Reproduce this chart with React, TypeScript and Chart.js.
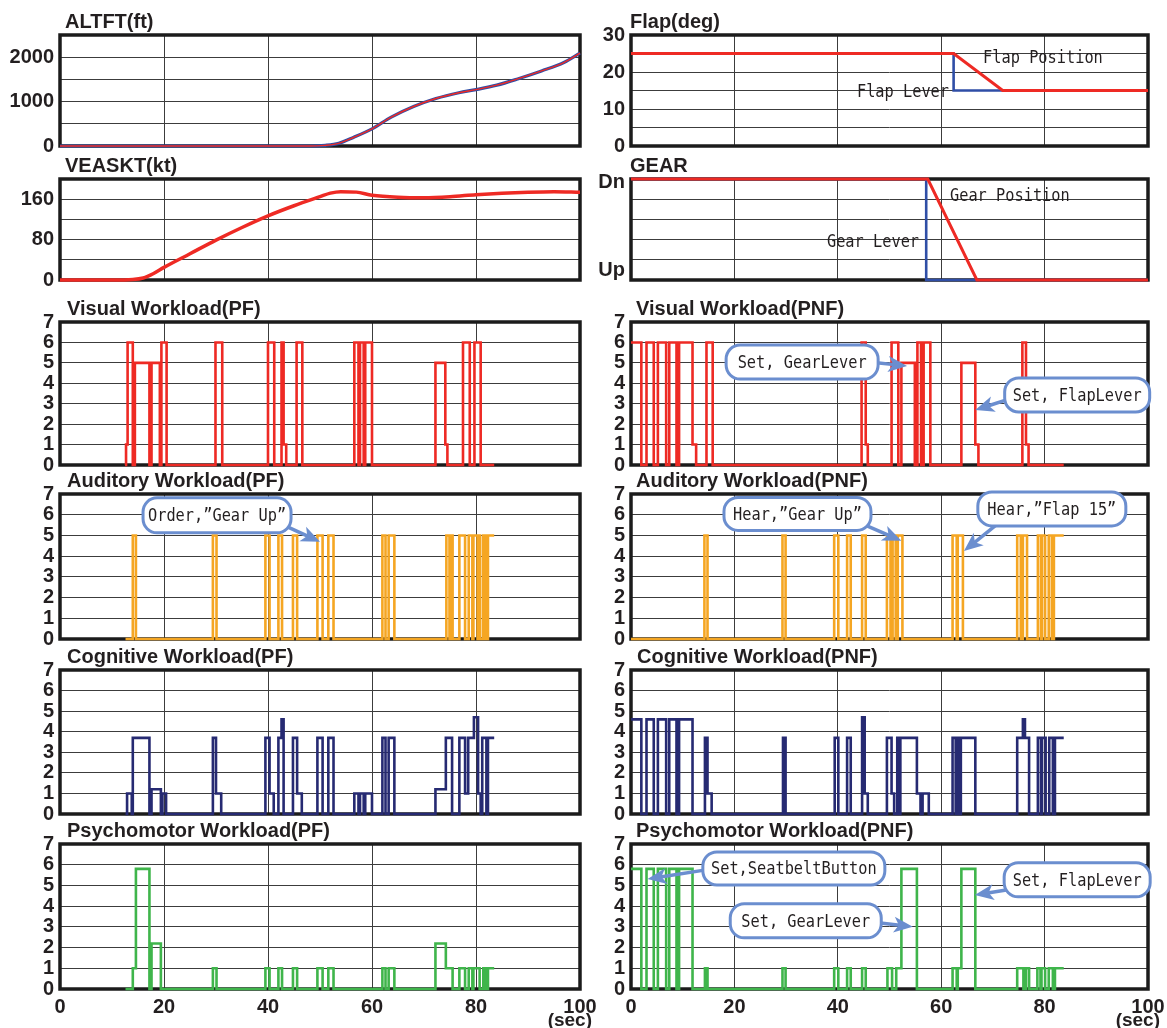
import React, { useEffect, useRef } from "react";
import { Chart, registerables } from "chart.js";

Chart.register(...registerables);

// ================= DATA =================
const timeStep = 20; // seconds between x ticks

const altTime = [0, 48, 51, 53.6, 56.5, 60, 63.7, 68, 72.3, 76.7, 80, 84, 88, 92.6, 96.9, 100];
const altFt = [0, 0, 15, 60, 197, 386, 650, 890, 1070, 1200, 1270, 1370, 1510, 1690, 1880, 2090];

const velTime = [0, 10, 14, 16, 18, 20, 25, 30, 35, 40, 45, 50, 52, 54, 57, 60, 65, 70, 75, 80, 85, 90, 95, 100];
const velKt = [0, 0, 1, 4, 13, 25, 52, 79, 104, 127, 147, 165, 172, 175, 174, 168, 164, 163, 165, 169, 172, 174, 175, 174];

const flapPosTime = [0, 62.4, 71.9, 100];
const flapPosDeg = [25, 25, 15, 15];
const flapLeverTime = [0, 62.4, 62.4, 100];
const flapLeverDeg = [25, 25, 15, 15];

const gearPosTime = [0, 57.4, 66.9, 100];
const gearPosState = [1, 1, 0, 0]; // 1 = Dn, 0 = Up
const gearLeverTime = [0, 57.1, 57.1, 100];
const gearLeverState = [1, 1, 0, 0];
const gearStateLabels = ["Up", "Dn"];

// Workload step series: level[i] holds from time[i] until time[i+1]
const visualPFTime = [12.5, 12.7, 13.0, 14.0, 14.4, 17.2, 17.6, 19.2, 19.5, 20.5, 29.9, 31.2, 40.0, 41.2, 42.6, 43.0, 43.5, 45.5, 46.6, 56.6, 57.4, 57.7, 58.4, 58.7, 60.0, 72.2, 74.1, 74.5, 77.5, 78.8, 79.7, 80.9, 83.5];
const visualPFLevel = [0, 1, 6, 0, 5, 0, 5, 0, 6, 0, 6, 0, 6, 0, 6, 1, 0, 6, 0, 6, 0, 6, 0, 6, 0, 5, 1, 0, 6, 0, 6, 0, 0];

const visualPNFTime = [0, 2.0, 3.0, 4.4, 5.2, 6.8, 7.4, 8.8, 9.3, 11.9, 12.6, 14.6, 15.8, 44.6, 45.4, 45.8, 50.4, 51.7, 52.3, 54.9, 55.4, 56.1, 56.6, 57.9, 63.9, 66.6, 67.2, 75.7, 76.4, 76.9, 83.7];
const visualPNFLevel = [6, 0, 6, 0, 6, 0, 6, 0, 6, 1, 0, 6, 0, 6, 1, 0, 6, 0, 5, 0, 6, 0, 6, 0, 5, 1, 0, 6, 1, 0, 0];

const auditoryPFTime = [12.6, 14.0, 14.6, 29.4, 30.1, 39.5, 40.3, 42.0, 42.7, 44.8, 45.6, 49.5, 50.5, 51.6, 52.6, 62.0, 62.6, 63.2, 64.3, 74.3, 74.9, 75.2, 75.5, 76.8, 77.9, 78.6, 79.3, 79.5, 80.3, 80.5, 80.8, 81.4, 81.9, 82.3, 83.5];
const auditoryPFLevel = [0, 5, 0, 5, 0, 5, 0, 5, 0, 5, 0, 5, 0, 5, 0, 5, 0, 5, 0, 5, 0, 5, 0, 5, 0, 5, 0, 5, 0, 5, 0, 5, 0, 5, 5];

const auditoryPNFTime = [0, 14.2, 14.8, 29.3, 29.9, 39.3, 40.1, 41.8, 42.5, 44.7, 45.4, 49.5, 50.2, 50.6, 51.2, 51.6, 52.5, 62.2, 63.0, 63.2, 64.2, 74.7, 75.4, 75.8, 76.6, 78.7, 79.3, 79.5, 80.1, 80.8, 81.4, 81.8, 83.7];
const auditoryPNFLevel = [0, 5, 0, 5, 0, 5, 0, 5, 0, 5, 0, 5, 0, 5, 0, 5, 0, 5, 0, 5, 0, 5, 0, 5, 0, 5, 0, 5, 0, 5, 0, 5, 5];

const cognitivePFTime = [12.6, 12.9, 13.8, 14.0, 17.2, 17.6, 19.4, 19.7, 20.4, 29.4, 30.0, 31.0, 39.5, 40.3, 41.1, 42.0, 42.6, 43.0, 44.8, 45.6, 46.5, 49.5, 50.5, 51.6, 52.6, 56.6, 57.4, 57.7, 58.4, 58.7, 60.0, 62.0, 62.6, 63.2, 64.3, 72.2, 74.2, 75.4, 76.8, 77.9, 78.5, 79.6, 80.4, 80.9, 81.2, 82.0, 82.3, 83.5];
const cognitivePFLevel = [0, 1, 0, 3.7, 0, 1.2, 0, 1, 0, 3.7, 1, 0, 3.7, 1, 0, 3.7, 4.6, 0, 3.7, 1, 0, 3.7, 0, 3.7, 0, 1, 0, 1, 0, 1, 0, 3.7, 0, 3.7, 0, 1.2, 3.7, 0, 3.7, 1, 3.7, 4.7, 1, 0, 3.7, 0, 3.7, 3.7];

const cognitivePNFTime = [0, 2.0, 3.0, 4.4, 5.2, 6.8, 7.4, 8.8, 9.3, 11.9, 14.3, 14.8, 15.6, 29.4, 29.9, 39.4, 40.1, 41.8, 42.5, 44.7, 45.2, 45.8, 49.5, 50.4, 50.9, 51.5, 51.9, 52.1, 55.3, 56.0, 56.4, 57.6, 62.2, 62.8, 63.1, 63.6, 63.8, 66.6, 74.7, 75.8, 76.2, 77.0, 78.7, 79.3, 79.5, 80.2, 80.9, 81.6, 82.0, 83.7];
const cognitivePNFLevel = [4.6, 0, 4.6, 0, 4.6, 0, 4.6, 0, 4.6, 0, 3.7, 1, 0, 3.7, 0, 3.7, 0, 3.7, 0, 4.7, 1, 0, 3.7, 1, 0, 3.7, 0, 3.7, 1, 0, 1, 0, 3.7, 0, 3.7, 0, 3.7, 0, 3.7, 4.6, 3.7, 0, 3.7, 0, 3.7, 0, 3.7, 0, 3.7, 3.7];

const psychPFTime = [12.6, 14.0, 14.6, 17.2, 17.6, 19.4, 29.4, 30.1, 39.5, 40.3, 42.0, 42.7, 44.8, 45.6, 49.5, 50.5, 51.6, 52.6, 62.0, 62.6, 63.2, 64.3, 72.2, 74.2, 75.5, 76.8, 77.9, 78.6, 79.3, 79.5, 80.7, 81.4, 81.9, 82.3, 83.5];
const psychPFLevel = [0, 1, 5.8, 0, 2.2, 0, 1, 0, 1, 0, 1, 0, 1, 0, 1, 0, 1, 0, 1, 0, 1, 0, 2.2, 1, 0, 1, 0, 1, 0, 1, 0, 1, 0, 1, 1];

const psychPNFTime = [0, 2.0, 3.0, 4.4, 5.2, 6.8, 7.4, 8.8, 9.3, 11.9, 14.3, 14.8, 29.3, 29.9, 39.3, 40.1, 41.8, 42.5, 44.7, 45.4, 49.6, 50.5, 51.3, 52.3, 55.3, 62.2, 63.0, 63.2, 63.9, 66.6, 74.7, 75.9, 76.4, 77.0, 78.6, 79.2, 79.4, 80.1, 80.8, 81.6, 82.0, 83.7];
const psychPNFLevel = [5.8, 0, 5.8, 0, 5.8, 0, 5.8, 0, 5.8, 0, 1, 0, 1, 0, 1, 0, 1, 0, 1, 0, 1, 0, 1, 5.8, 0, 1, 0, 1, 5.8, 0, 1, 0, 1, 0, 1, 0, 1, 0, 1, 0, 1, 1];

// ================= STYLE / LAYOUT =================
const RED = "#ee2a24";
const BLUE = "#2f4ea6";
const ORANGE = "#f5a623";
const NAVY = "#262a72";
const GREEN = "#3fb54b";
const CALLOUT = "#6b8ecf";
const TEXT = "#231f20";
const GRID = "#3c3c3c";
const SANS = '"Liberation Sans", Arial, Helvetica, sans-serif';
const MONO = '"DejaVu Sans Mono", "Liberation Mono", monospace';

const COLS = [
  { l: 60, r: 580 },
  { l: 631, r: 1148 },
];
const ROWS = [
  { t: 35, b: 146 },
  { t: 179, b: 280 },
  { t: 322, b: 465 },
  { t: 494, b: 639 },
  { t: 670, b: 814 },
  { t: 844, b: 989 },
];
const YW = 60;
const TOPPAD = 34;
const RIGHTPAD = 20;
const BOTPAD = 16;
const XAXIS_H = 39;

type Series = { t: number[]; v: number[]; color: string; width: number; stepped?: boolean; smooth?: boolean };
type Callout = { text: string; cx: number; cy: number; w: number; h: number; sx: number; sy: number; tx: number; ty: number };
type Note = { text: string; x: number; y: number };
type SideLabel = { v: number; text: string; dy: number };
type Panel = {
  id: string;
  title: string;
  col: number;
  row: number;
  titleDx: number;
  yMax: number;
  yStep: number;
  yLabel: (v: number) => string;
  series: Series[];
  callouts?: Callout[];
  notes?: Note[];
  sideLabels?: SideLabel[];
  vGridTopOnly?: number;
};

const wl = (v: number) => String(v);

const PANELS: Panel[] = [
  {
    id: "alt", title: "ALTFT(ft)", col: 0, row: 0, titleDx: 5, yMax: 2500, yStep: 500,
    yLabel: (v) => (v % 1000 === 0 ? String(v) : ""),
    series: [
      { t: altTime, v: altFt, color: RED, width: 1.4, smooth: true },
      { t: altTime, v: altFt, color: BLUE, width: 3.2, smooth: true },
    ],
  },
  {
    id: "vel", title: "VEASKT(kt)", col: 0, row: 1, titleDx: 5, yMax: 200, yStep: 40,
    yLabel: (v) => (v % 80 === 0 ? String(v) : ""),
    series: [{ t: velTime, v: velKt, color: RED, width: 3.5, smooth: true }],
  },
  {
    id: "flap", title: "Flap(deg)", col: 1, row: 0, titleDx: -1, yMax: 30, yStep: 5,
    yLabel: (v) => (v % 10 === 0 ? String(v) : ""),
    series: [
      { t: flapPosTime, v: flapPosDeg, color: RED, width: 3 },
      { t: flapLeverTime, v: flapLeverDeg, color: BLUE, width: 2.6 },
    ],
    notes: [
      { text: "Flap Position", x: 68.1, y: 22.4 },
      { text: "Flap Lever", x: 43.7, y: 13.2 },
    ],
  },
  {
    id: "gear", title: "GEAR", col: 1, row: 1, titleDx: -1, yMax: 1, yStep: 0.2,
    yLabel: () => "",
    sideLabels: [
      { v: 1, text: gearStateLabels[1], dy: 3 },
      { v: 0, text: gearStateLabels[0], dy: -10 },
    ],
    series: [
      { t: gearPosTime, v: gearPosState, color: RED, width: 3 },
      { t: gearLeverTime, v: gearLeverState, color: BLUE, width: 2.6 },
    ],
    notes: [
      { text: "Gear Position", x: 61.7, y: 0.78 },
      { text: "Gear Lever", x: 37.9, y: 0.33 },
    ],
  },
  {
    id: "vpf", title: "Visual Workload(PF)", col: 0, row: 2, titleDx: 7, yMax: 7, yStep: 1, yLabel: wl,
    series: [{ t: visualPFTime, v: visualPFLevel, color: RED, width: 2.6, stepped: true }],
    vGridTopOnly: 6,
  },
  {
    id: "vpnf", title: "Visual Workload(PNF)", col: 1, row: 2, titleDx: 5, yMax: 7, yStep: 1, yLabel: wl,
    series: [{ t: visualPNFTime, v: visualPNFLevel, color: RED, width: 2.6, stepped: true }],
    callouts: [
      { text: "Set, GearLever", cx: 33.1, cy: 5.04, w: 152, h: 34, sx: 47.5, sy: 5.0, tx: 53.4, ty: 4.85 },
      { text: "Set, FlapLever", cx: 86.3, cy: 3.43, w: 145, h: 34, sx: 72.8, sy: 3.2, tx: 66.6, ty: 2.69 },
    ],
  },
  {
    id: "apf", title: "Auditory Workload(PF)", col: 0, row: 3, titleDx: 7, yMax: 7, yStep: 1, yLabel: wl,
    series: [{ t: auditoryPFTime, v: auditoryPFLevel, color: ORANGE, width: 2.6, stepped: true }],
    callouts: [
      { text: "Order,\u201dGear Up\u201d", cx: 30.2, cy: 5.97, w: 148, h: 35, sx: 43.0, sy: 5.5, tx: 50.0, ty: 4.69 },
    ],
  },
  {
    id: "apnf", title: "Auditory Workload(PNF)", col: 1, row: 3, titleDx: 5, yMax: 7, yStep: 1, yLabel: wl,
    series: [{ t: auditoryPNFTime, v: auditoryPNFLevel, color: ORANGE, width: 2.6, stepped: true }],
    callouts: [
      { text: "Hear,\u201dGear Up\u201d", cx: 32.2, cy: 6.04, w: 147, h: 33, sx: 45.3, sy: 5.5, tx: 52.3, ty: 4.74 },
      { text: "Hear,\u201dFlap 15\u201d", cx: 81.4, cy: 6.28, w: 148, h: 34, sx: 70.6, sy: 5.5, tx: 64.4, ty: 4.25 },
    ],
  },
  {
    id: "cpf", title: "Cognitive Workload(PF)", col: 0, row: 4, titleDx: 7, yMax: 7, yStep: 1, yLabel: wl,
    series: [{ t: cognitivePFTime, v: cognitivePFLevel, color: NAVY, width: 2.6, stepped: true }],
  },
  {
    id: "cpnf", title: "Cognitive Workload(PNF)", col: 1, row: 4, titleDx: 6, yMax: 7, yStep: 1, yLabel: wl,
    series: [{ t: cognitivePNFTime, v: cognitivePNFLevel, color: NAVY, width: 2.6, stepped: true }],
  },
  {
    id: "ppf", title: "Psychomotor Workload(PF)", col: 0, row: 5, titleDx: 7, yMax: 7, yStep: 1, yLabel: wl,
    series: [{ t: psychPFTime, v: psychPFLevel, color: GREEN, width: 2.6, stepped: true }],
  },
  {
    id: "ppnf", title: "Psychomotor Workload(PNF)", col: 1, row: 5, titleDx: 5, yMax: 7, yStep: 1, yLabel: wl,
    series: [{ t: psychPNFTime, v: psychPNFLevel, color: GREEN, width: 2.6, stepped: true }],
    callouts: [
      { text: "Set,SeatbeltButton", cx: 31.5, cy: 5.82, w: 182, h: 33, sx: 14.5, sy: 5.75, tx: 3.2, ty: 5.31 },
      { text: "Set, FlapLever", cx: 86.3, cy: 5.27, w: 146, h: 34, sx: 73.2, sy: 4.8, tx: 66.5, ty: 4.54 },
      { text: "Set, GearLever", cx: 33.8, cy: 3.29, w: 151, h: 34, sx: 47.8, sy: 3.2, tx: 54.5, ty: 3.0 },
    ],
  },
];

// ================= DRAW HELPERS =================
function condText(ctx: CanvasRenderingContext2D, text: string, x: number, y: number, align: CanvasTextAlign, baseline: CanvasTextBaseline) {
  ctx.save();
  ctx.font = `18px ${MONO}`;
  ctx.fillStyle = TEXT;
  ctx.translate(x, y);
  ctx.scale(0.85, 1);
  ctx.textAlign = align;
  ctx.textBaseline = baseline;
  ctx.fillText(text, 0, 0);
  ctx.restore();
}

function roundRectPath(ctx: CanvasRenderingContext2D, x: number, y: number, w: number, h: number, r: number) {
  ctx.beginPath();
  ctx.moveTo(x + r, y);
  ctx.lineTo(x + w - r, y);
  ctx.arcTo(x + w, y, x + w, y + r, r);
  ctx.lineTo(x + w, y + h - r);
  ctx.arcTo(x + w, y + h, x + w - r, y + h, r);
  ctx.lineTo(x + r, y + h);
  ctx.arcTo(x, y + h, x, y + h - r, r);
  ctx.lineTo(x, y + r);
  ctx.arcTo(x, y, x + r, y, r);
  ctx.closePath();
}

function drawArrow(ctx: CanvasRenderingContext2D, x1: number, y1: number, x2: number, y2: number) {
  const ang = Math.atan2(y2 - y1, x2 - x1);
  const L = 16;
  const W = 8;
  const bx = x2 - L * Math.cos(ang);
  const by = y2 - L * Math.sin(ang);
  ctx.strokeStyle = CALLOUT;
  ctx.fillStyle = CALLOUT;
  ctx.lineWidth = 3.5;
  ctx.beginPath();
  ctx.moveTo(x1, y1);
  ctx.lineTo(bx + 3 * Math.cos(ang), by + 3 * Math.sin(ang));
  ctx.stroke();
  ctx.beginPath();
  ctx.moveTo(x2, y2);
  ctx.lineTo(bx + W * Math.sin(ang) - 3 * Math.cos(ang), by - W * Math.cos(ang) - 3 * Math.sin(ang));
  ctx.lineTo(bx + 2 * Math.cos(ang), by + 2 * Math.sin(ang));
  ctx.lineTo(bx - W * Math.sin(ang) - 3 * Math.cos(ang), by + W * Math.cos(ang) - 3 * Math.sin(ang));
  ctx.closePath();
  ctx.fill();
}

function makePlugin(p: Panel, last: boolean) {
  return {
    id: "panel_" + p.id,
    beforeDatasetsDraw(chart: any) {
      const ctx: CanvasRenderingContext2D = chart.ctx;
      const a = chart.chartArea;
      const xs = chart.scales.x;
      const ys = chart.scales.y;
      ctx.save();
      if (p.vGridTopOnly !== undefined) {
        ctx.strokeStyle = GRID;
        ctx.lineWidth = 1;
        const yb = Math.round(ys.getPixelForValue(p.vGridTopOnly)) + 0.5;
        for (let t = timeStep; t < 100; t += timeStep) {
          const x = Math.round(xs.getPixelForValue(t)) + 0.5;
          ctx.beginPath();
          ctx.moveTo(x, a.top);
          ctx.lineTo(x, yb);
          ctx.stroke();
        }
      }
      ctx.strokeStyle = "#1b1b1b";
      ctx.lineWidth = 3.5;
      ctx.strokeRect(a.left, a.top, a.right - a.left, a.bottom - a.top);
      ctx.restore();
    },
    afterDraw(chart: any) {
      const ctx: CanvasRenderingContext2D = chart.ctx;
      const a = chart.chartArea;
      const xs = chart.scales.x;
      const ys = chart.scales.y;
      ctx.save();
      // title
      ctx.font = `bold 20px ${SANS}`;
      ctx.fillStyle = TEXT;
      ctx.textAlign = "left";
      ctx.textBaseline = "alphabetic";
      ctx.fillText(p.title, a.left + p.titleDx, a.top - 7);
      // side labels (state names)
      (p.sideLabels || []).forEach((s) => {
        ctx.textAlign = "right";
        ctx.textBaseline = "middle";
        ctx.fillText(s.text, a.left - 6, ys.getPixelForValue(s.v) + s.dy);
      });
      if (last) {
        ctx.textAlign = "right";
        ctx.textBaseline = "alphabetic";
        ctx.font = `bold 19px ${SANS}`;
        ctx.fillText("(sec)", a.right + 12, a.bottom + 37);
      }
      // notes
      (p.notes || []).forEach((n) => {
        condText(ctx, n.text, xs.getPixelForValue(n.x), ys.getPixelForValue(n.y), "left", "alphabetic");
      });
      // callouts
      (p.callouts || []).forEach((c) => {
        const cx = xs.getPixelForValue(c.cx);
        const cy = ys.getPixelForValue(c.cy);
        drawArrow(ctx, xs.getPixelForValue(c.sx), ys.getPixelForValue(c.sy), xs.getPixelForValue(c.tx), ys.getPixelForValue(c.ty));
        roundRectPath(ctx, cx - c.w / 2, cy - c.h / 2, c.w, c.h, 14);
        ctx.fillStyle = "#ffffff";
        ctx.fill();
        ctx.strokeStyle = CALLOUT;
        ctx.lineWidth = 3;
        ctx.stroke();
        condText(ctx, c.text, cx, cy + 1, "center", "middle");
      });
      ctx.restore();
    },
  };
}

function PanelChart({ p }: { p: Panel }) {
  const ref = useRef<HTMLCanvasElement>(null);
  const c = COLS[p.col];
  const r = ROWS[p.row];
  const last = p.row === ROWS.length - 1;
  const left = c.l - YW;
  const top = r.t - TOPPAD;
  const w = YW + (c.r - c.l) + RIGHTPAD;
  const h = TOPPAD + (r.b - r.t) + (last ? XAXIS_H : BOTPAD);

  useEffect(() => {
    const canvas = ref.current;
    if (!canvas) return;
    const tickFont = { family: SANS, size: 20, weight: "bold" as const };
    const chart = new Chart(canvas, {
      type: "line",
      data: {
        datasets: p.series.map((s) => ({
          data: s.t.map((x, i) => ({ x, y: s.v[i] })),
          borderColor: s.color,
          backgroundColor: s.color,
          borderWidth: s.width,
          pointRadius: 0,
          pointHoverRadius: 0,
          fill: false,
          stepped: s.stepped ? true : false,
          tension: 0,
          cubicInterpolationMode: s.smooth ? "monotone" : "default",
          borderJoinStyle: "miter",
          clip: false,
        })) as any,
      },
      options: {
        animation: false,
        responsive: false,
        maintainAspectRatio: false,
        devicePixelRatio: 1,
        events: [],
        layout: { padding: { top: TOPPAD, left: 0, right: RIGHTPAD, bottom: last ? 0 : BOTPAD } },
        plugins: { legend: { display: false }, tooltip: { enabled: false }, title: { display: false } },
        scales: {
          x: {
            type: "linear",
            min: 0,
            max: 100,
            border: { display: false },
            grid: { display: p.vGridTopOnly === undefined, color: GRID, lineWidth: 1, drawTicks: false },
            ticks: {
              display: last,
              stepSize: timeStep,
              autoSkip: false,
              maxRotation: 0,
              padding: 6,
              color: TEXT,
              font: tickFont,
              callback: (v: any) => String(v),
            },
            afterFit: (s: any) => {
              s.height = last ? XAXIS_H : 0;
              s.paddingLeft = 0;
              s.paddingRight = 0;
            },
          },
          y: {
            type: "linear",
            min: 0,
            max: p.yMax,
            border: { display: false },
            grid: { color: GRID, lineWidth: 1, drawTicks: false },
            ticks: {
              stepSize: p.yStep,
              autoSkip: false,
              padding: 6,
              color: TEXT,
              font: tickFont,
              callback: (v: any) => p.yLabel(Number(v)),
            },
            afterFit: (s: any) => {
              s.width = YW;
              s.paddingTop = 0;
              s.paddingBottom = 0;
            },
          },
        },
      } as any,
      plugins: [makePlugin(p, last)],
    });
    return () => chart.destroy();
  }, []);

  return (
    <canvas
      ref={ref}
      width={w}
      height={h}
      style={{ position: "absolute", left, top, width: w, height: h, display: "block" }}
    />
  );
}

export default function App() {
  return (
    <div style={{ position: "absolute", left: 0, top: 0, width: 1167, height: 1028, background: "#ffffff", overflow: "hidden" }}>
      {PANELS.map((p) => (
        <PanelChart key={p.id} p={p} />
      ))}
    </div>
  );
}
